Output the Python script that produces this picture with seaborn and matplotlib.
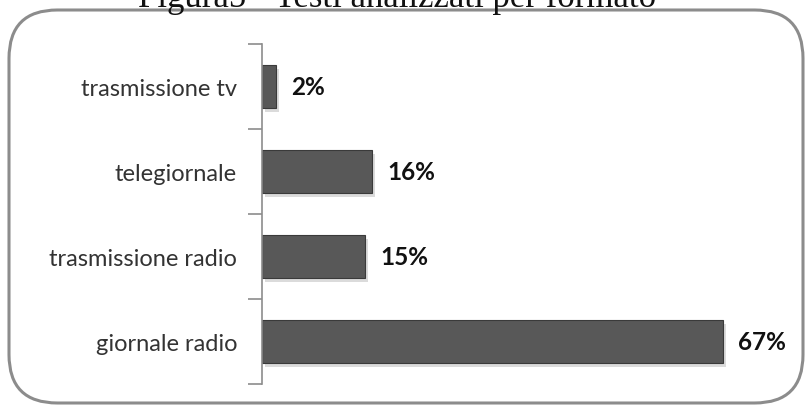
import matplotlib
matplotlib.use("Agg")
import matplotlib.pyplot as plt
import seaborn as sns
import pandas as pd
from matplotlib.patches import FancyBboxPatch
import matplotlib.patheffects as pe

categories = ["trasmissione tv", "telegiornale", "trasmissione radio", "giornale radio"]
values = [2, 16, 15, 67]
value_labels = ["2%", "16%", "15%", "67%"]
title = "Figura5 - Testi analizzati per formato"

df = pd.DataFrame({"formato": categories, "percentuale": values})

sns.set_style("white")
fig = plt.figure(figsize=(8.06, 4.06), dpi=100)
W, H = 806, 406

# rounded frame
frame = FancyBboxPatch((9 / W, 2 / H), (803 - 9) / W, (395 - 2) / H,
                       boxstyle="round,pad=0,rounding_size=0.06",
                       transform=fig.transFigure, facecolor="white",
                       edgecolor="#8c8c8c", linewidth=2.2, zorder=-5,
                       mutation_aspect=W / H)
fig.patches.append(frame)

ax = fig.add_axes([262 / W, (406 - 385) / H, (790 - 262) / W, (385 - 45) / H])
ax.set_facecolor("none")
ax.set_zorder(2)

sns.barplot(data=df, x="percentuale", y="formato", orient="h", ax=ax,
            color="#585858", width=0.5, saturation=1, edgecolor="#3a3a3a",
            linewidth=0.8)
for p in ax.patches:
    p.set_path_effects([pe.SimplePatchShadow(offset=(2, -3), shadow_rgbFace="#c4c4c4", alpha=0.6),
                        pe.Normal()])

ax.set_xlim(0, (790 - 262) / 6.88)
ax.set_ylim(3.5, -0.5)
ax.set_xlabel("")
ax.set_ylabel("")
ax.set_xticks([])

for s in ["top", "right", "bottom"]:
    ax.spines[s].set_visible(False)
ax.spines["left"].set_color("#8c8c8c")
ax.spines["left"].set_linewidth(1.2)

ax.set_yticks(range(len(categories)))
ax.set_yticklabels(categories, fontsize=17, color="#333333", family="Lato")
ax.tick_params(axis="y", which="major", left=False, length=0, pad=18)
ax.set_yticks([-0.5, 0.5, 1.5, 2.5, 3.5], minor=True)
ax.tick_params(axis="y", which="minor", left=True, length=10, width=1.2, color="#8c8c8c")

for i, (v, lab) in enumerate(zip(values, value_labels)):
    ax.text(v + 2.2, i, lab, va="center", ha="left", fontsize=17.5,
            fontweight="bold", color="#111111", family="Lato")

fig.text(0.493, 399 / H, title, ha="center", va="baseline", fontsize=25,
         family="Liberation Serif", color="#111111", zorder=3)

fig.savefig("out.png", dpi=100)
